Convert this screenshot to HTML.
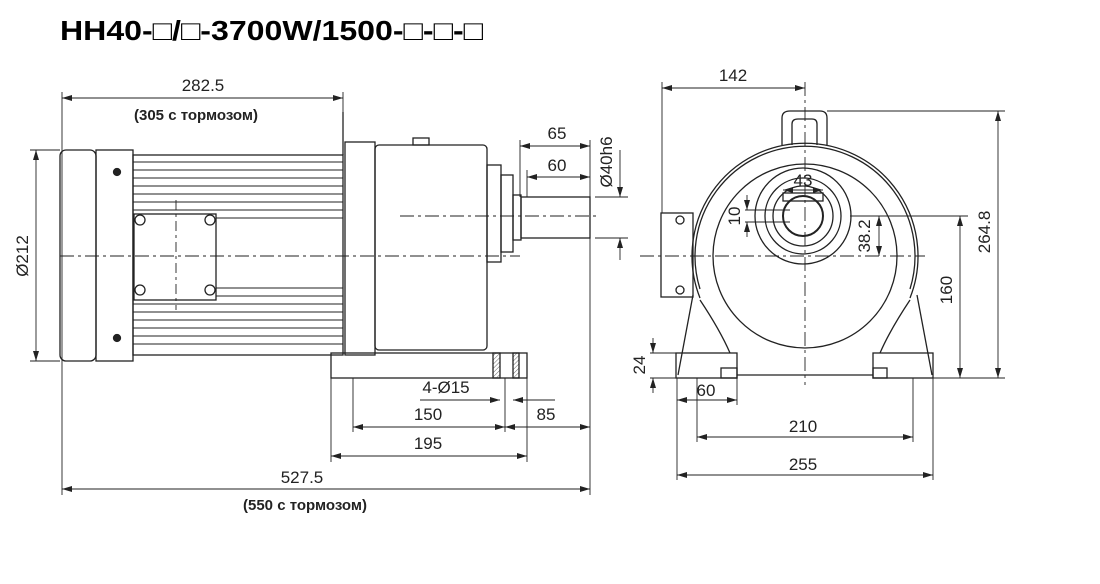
<!DOCTYPE html>
<html><head><meta charset="utf-8"><style>
html,body{margin:0;padding:0;background:#fff;}
svg{display:block;font-family:"Liberation Sans",sans-serif;}
</style></head><body>
<svg width="1100" height="584" viewBox="0 0 1100 584" xmlns="http://www.w3.org/2000/svg">
<defs>
<marker id="a" viewBox="0 0 10 6" refX="10" refY="3" markerWidth="10" markerHeight="6" orient="auto-start-reverse" markerUnits="userSpaceOnUse"><path d="M0,0L10,3L0,6z" fill="#222"/></marker>
<pattern id="h" width="3" height="3" patternUnits="userSpaceOnUse" patternTransform="rotate(45)"><line x1="0" y1="0" x2="0" y2="3" stroke="#666" stroke-width="1"/></pattern>
</defs>
<text x="60" y="40" font-size="28" font-weight="bold" textLength="423" lengthAdjust="spacingAndGlyphs">HH40-□/□-3700W/1500-□-□-□</text>

<g stroke="#222" fill="none" stroke-width="1.3">
<rect x="60" y="150" width="36" height="211" rx="6"/>
<rect x="96" y="150" width="37" height="211"/>
<rect x="133" y="155" width="210" height="200"/>
<g stroke-width="1">
<line x1="133" y1="162" x2="343" y2="162"/><line x1="133" y1="170" x2="343" y2="170"/>
<line x1="133" y1="178" x2="343" y2="178"/><line x1="133" y1="186" x2="343" y2="186"/>
<line x1="133" y1="194" x2="343" y2="194"/><line x1="133" y1="202" x2="343" y2="202"/>
<line x1="133" y1="210" x2="343" y2="210"/><line x1="216" y1="218" x2="343" y2="218"/>
<line x1="216" y1="288" x2="343" y2="288"/><line x1="216" y1="296" x2="343" y2="296"/>
<line x1="133" y1="304" x2="343" y2="304"/><line x1="133" y1="312" x2="343" y2="312"/>
<line x1="133" y1="320" x2="343" y2="320"/><line x1="133" y1="328" x2="343" y2="328"/>
<line x1="133" y1="336" x2="343" y2="336"/><line x1="133" y1="344" x2="343" y2="344"/>
</g>
<rect x="134" y="214" width="82" height="86" fill="#fff"/>
<circle cx="140" cy="220" r="5"/><circle cx="210" cy="220" r="5"/><circle cx="140" cy="290" r="5"/><circle cx="210" cy="290" r="5"/>
<line x1="343" y1="112" x2="343" y2="155"/>
<rect x="345" y="142" width="30" height="213"/>
<rect x="375" y="145" width="112" height="205" rx="4"/>
<rect x="413" y="138" width="16" height="7"/>
<rect x="487" y="165" width="14" height="97"/>
<rect x="501" y="175" width="12" height="77"/>
<rect x="513" y="195" width="8" height="45"/>
<rect x="521" y="197" width="69" height="41"/>
<rect x="331" y="353" width="196" height="25"/>
<rect x="493" y="353" width="7" height="25" fill="url(#h)"/>
<rect x="513" y="353" width="6" height="25" fill="url(#h)"/>
<circle cx="117" cy="172" r="3.5" fill="#222"/><circle cx="117" cy="338" r="3.5" fill="#222"/>
</g>
<g stroke="#222" stroke-width="0.9" fill="none">
<line x1="60" y1="256" x2="520" y2="256" stroke-dasharray="14,4,3,4"/>
<line x1="400" y1="216" x2="600" y2="216" stroke-dasharray="14,4,3,4"/>
<line x1="176" y1="200" x2="176" y2="310" stroke-dasharray="10,4,3,4"/>
<line x1="62" y1="92" x2="62" y2="495"/>
<line x1="343" y1="92" x2="343" y2="112"/>
<line x1="590" y1="238" x2="590" y2="495"/>
<line x1="520" y1="140" x2="520" y2="197"/>
<line x1="527" y1="170" x2="527" y2="197"/>
<line x1="590" y1="140" x2="590" y2="197"/>
<line x1="30" y1="150" x2="60" y2="150"/><line x1="30" y1="361" x2="60" y2="361"/>
<line x1="331" y1="378" x2="331" y2="462"/><line x1="527" y1="378" x2="527" y2="462"/>
<line x1="353" y1="378" x2="353" y2="432"/><line x1="505" y1="378" x2="505" y2="432"/>
<line x1="595" y1="197" x2="628" y2="197"/><line x1="595" y1="238" x2="628" y2="238"/>
<line x1="62" y1="98" x2="343" y2="98" marker-start="url(#a)" marker-end="url(#a)"/>
<line x1="36" y1="150" x2="36" y2="361" marker-start="url(#a)" marker-end="url(#a)"/>
<line x1="520" y1="146" x2="590" y2="146" marker-start="url(#a)" marker-end="url(#a)"/>
<line x1="527" y1="177" x2="590" y2="177" marker-start="url(#a)" marker-end="url(#a)"/>
<line x1="620" y1="150" x2="620" y2="197" marker-end="url(#a)"/>
<line x1="620" y1="238" x2="620" y2="260" marker-start="url(#a)"/>
<line x1="420" y1="400" x2="500" y2="400" marker-end="url(#a)"/>
<line x1="513" y1="400" x2="555" y2="400" marker-start="url(#a)"/>
<line x1="353" y1="427" x2="505" y2="427" marker-start="url(#a)" marker-end="url(#a)"/>
<line x1="505" y1="427" x2="590" y2="427" marker-start="url(#a)" marker-end="url(#a)"/>
<line x1="331" y1="456" x2="527" y2="456" marker-start="url(#a)" marker-end="url(#a)"/>
<line x1="62" y1="489" x2="590" y2="489" marker-start="url(#a)" marker-end="url(#a)"/>
</g>
<g font-size="17" fill="#222" text-anchor="middle">
<text x="203" y="91">282.5</text>
<text x="196" y="120" font-size="15" font-weight="bold">(305 с тормозом)</text>
<text transform="translate(28,256) rotate(-90)">Ø212</text>
<text x="557" y="139">65</text>
<text x="557" y="171">60</text>
<text transform="translate(612,162) rotate(-90)">Ø40h6</text>
<text x="446" y="393">4-Ø15</text>
<text x="428" y="420">150</text>
<text x="546" y="420">85</text>
<text x="428" y="449">195</text>
<text x="302" y="483">527.5</text>
<text x="305" y="510" font-size="15" font-weight="bold">(550 с тормозом)</text>
</g>

<g stroke="#222" fill="none" stroke-width="1.3">
<path d="M782,145 V118 Q782,111 790,111 H820 Q827,111 827,118 V145"/>
<path d="M792,145 V124 Q792,119 798,119 H812 Q817,119 817,124 V145"/>
<path d="M700,298 A113,113 0 1 1 910,298"/>
<path d="M700,289 A110,110 0 1 1 910,289"/>
<circle cx="805" cy="256" r="92"/>
<circle cx="803" cy="216" r="48"/><circle cx="803" cy="216" r="38"/><circle cx="803" cy="216" r="30"/>
<circle cx="803" cy="216" r="20" stroke-width="2"/>
<rect x="783" y="193" width="40" height="8"/>
<path d="M693,295 L678,375 M917,295 L932,375"/>
<path d="M700,300 Q720,330 730,353 M910,300 Q890,330 880,353"/>
<rect x="676" y="353" width="61" height="25"/><rect x="873" y="353" width="60" height="25"/>
<line x1="737" y1="375" x2="873" y2="375"/>
<rect x="721" y="368" width="16" height="10"/><rect x="873" y="368" width="14" height="10"/>
<rect x="661" y="213" width="32" height="84"/>
<circle cx="680" cy="220" r="4"/><circle cx="680" cy="290" r="4"/>
</g>
<g stroke="#222" stroke-width="0.9" fill="none">
<line x1="805" y1="82" x2="805" y2="385" stroke-dasharray="14,4,3,4"/>
<line x1="640" y1="256" x2="925" y2="256" stroke-dasharray="14,4,3,4"/>
<line x1="662" y1="82" x2="662" y2="213"/>
<line x1="827" y1="111" x2="1005" y2="111"/>
<line x1="850" y1="216" x2="968" y2="216"/>
<line x1="932" y1="378" x2="1005" y2="378"/>
<line x1="650" y1="353" x2="676" y2="353"/><line x1="650" y1="378" x2="676" y2="378"/>
<line x1="677" y1="378" x2="677" y2="480"/><line x1="933" y1="378" x2="933" y2="480"/>
<line x1="737" y1="378" x2="737" y2="405"/>
<line x1="697" y1="378" x2="697" y2="442"/><line x1="913" y1="378" x2="913" y2="442"/>
<line x1="745" y1="210" x2="790" y2="210"/><line x1="745" y1="222" x2="790" y2="222"/>
<line x1="662" y1="88" x2="805" y2="88" marker-start="url(#a)" marker-end="url(#a)"/>
<line x1="998" y1="111" x2="998" y2="378" marker-start="url(#a)" marker-end="url(#a)"/>
<line x1="960" y1="216" x2="960" y2="378" marker-start="url(#a)" marker-end="url(#a)"/>
<line x1="879" y1="216" x2="879" y2="256" marker-start="url(#a)" marker-end="url(#a)"/>
<line x1="747" y1="195" x2="747" y2="210" marker-end="url(#a)"/>
<line x1="747" y1="222" x2="747" y2="237" marker-start="url(#a)"/>
<line x1="783" y1="190" x2="823" y2="190" marker-start="url(#a)" marker-end="url(#a)"/>
<line x1="653" y1="338" x2="653" y2="353" marker-end="url(#a)"/>
<line x1="653" y1="378" x2="653" y2="393" marker-start="url(#a)"/>
<line x1="677" y1="400" x2="737" y2="400" marker-start="url(#a)" marker-end="url(#a)"/>
<line x1="697" y1="437" x2="913" y2="437" marker-start="url(#a)" marker-end="url(#a)"/>
<line x1="677" y1="475" x2="933" y2="475" marker-start="url(#a)" marker-end="url(#a)"/>
</g>
<g font-size="17" fill="#222" text-anchor="middle">
<text x="733" y="81">142</text>
<text transform="translate(990,232) rotate(-90)">264.8</text>
<text transform="translate(952,290) rotate(-90)">160</text>
<text transform="translate(870,236) rotate(-90)">38.2</text>
<text transform="translate(740,216) rotate(-90)">10</text>
<text x="803" y="186">43</text>
<text transform="translate(645,365) rotate(-90)">24</text>
<text x="706" y="396">60</text>
<text x="803" y="432">210</text>
<text x="803" y="470">255</text>
</g>
</svg>
</body></html>
